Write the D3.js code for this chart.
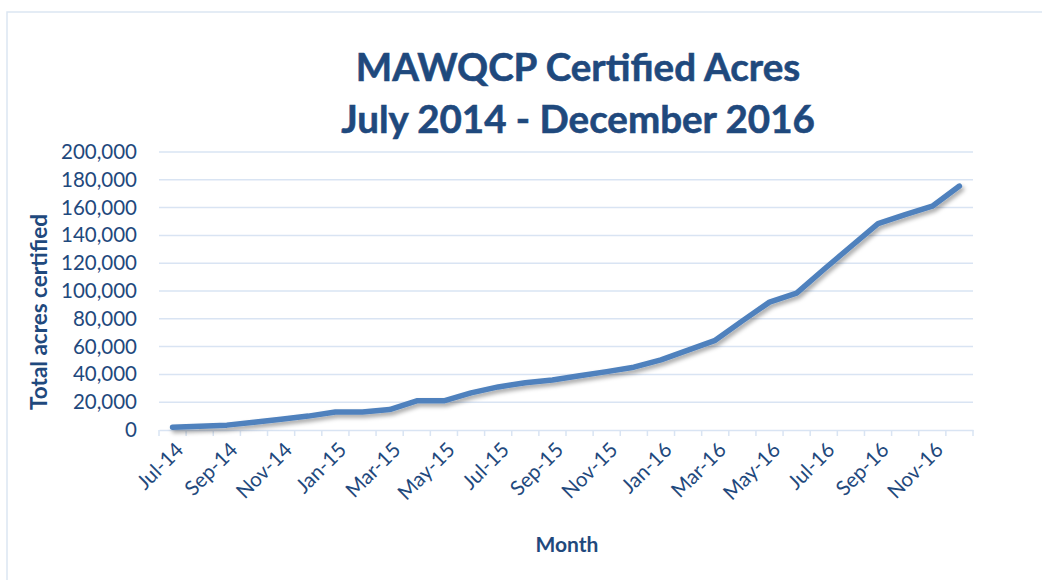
<!DOCTYPE html>
<html>
<head>
<meta charset="utf-8">
<script src="https://cdn.jsdelivr.net/npm/d3@7"></script>
<style>
  body { margin: 0; background: #fff; }
  text { font-family: Lato, "Open Sans", sans-serif; fill: #1f497d; }
</style>
</head>
<body>
<div id="chart-area"></div>
<script>
const months = ['Jul-14','Aug-14','Sep-14','Oct-14','Nov-14','Dec-14',
  'Jan-15','Feb-15','Mar-15','Apr-15','May-15','Jun-15','Jul-15','Aug-15','Sep-15','Oct-15','Nov-15','Dec-15',
  'Jan-16','Feb-16','Mar-16','Apr-16','May-16','Jun-16','Jul-16','Aug-16','Sep-16','Oct-16','Nov-16','Dec-16'];

const acres = [2000, 2700, 3500, 5500, 7800, 10000,
  13000, 13000, 14700, 21000, 21000, 26700, 31000, 34000, 36000, 39000, 42000, 45200,
  50500, 57500, 64500, 78500, 92000, 98500, 115500, 132000, 148500, 155000, 161000, 175500];

const yTicks = [0, 20000, 40000, 60000, 80000, 100000, 120000, 140000, 160000, 180000, 200000];

const titleLines = ['MAWQCP Certified Acres', 'July 2014 - December 2016'];

const MARGIN = { LEFT: 159, RIGHT: 69, TOP: 152, BOTTOM: 150 };
const WIDTH = 1042 - MARGIN.LEFT - MARGIN.RIGHT;
const HEIGHT = 580 - MARGIN.TOP - MARGIN.BOTTOM;

const data = months.map((m, i) => ({ month: m, value: acres[i] }));

const svg = d3.select('#chart-area').append('svg')
  .attr('width', 1042)
  .attr('height', 580);

const defs = svg.append('defs');
const shadow = defs.append('filter').attr('id', 'shadow')
  .attr('x', '-5%').attr('y', '-5%').attr('width', '115%').attr('height', '130%');
shadow.append('feDropShadow')
  .attr('dx', 2).attr('dy', 3).attr('stdDeviation', 2)
  .attr('flood-color', '#000').attr('flood-opacity', 0.35);

// chart border
svg.append('rect')
  .attr('x', 7).attr('y', 12)
  .attr('width', 1060).attr('height', 600)
  .attr('fill', 'none')
  .attr('stroke', '#dce6f2')
  .attr('stroke-width', 1.5);

// title
svg.selectAll('.title').data(titleLines).enter().append('text')
  .attr('class', 'title')
  .attr('x', 578)
  .attr('y', (d, i) => 81 + i * 52)
  .attr('text-anchor', 'middle')
  .style('font-size', '38.5px')
  .style('font-weight', 'bold')
  .style('stroke', '#1f497d')
  .style('stroke-width', 0.6)
  .text(d => d);

const g = svg.append('g')
  .attr('transform', `translate(${MARGIN.LEFT}, ${MARGIN.TOP})`);

const x = d3.scaleBand()
  .domain(months)
  .range([0, WIDTH]);

const y = d3.scaleLinear()
  .domain([0, 200000])
  .range([HEIGHT, 0]);

// gridlines
g.selectAll('.grid').data(yTicks.slice(1)).enter().append('line')
  .attr('x1', 0).attr('x2', WIDTH)
  .attr('y1', d => y(d)).attr('y2', d => y(d))
  .attr('stroke', '#d9e4f3')
  .attr('stroke-width', 1.5);

// y axis labels
const yAxis = d3.axisLeft(y)
  .tickValues(yTicks)
  .tickFormat(d3.format(','))
  .tickSize(0)
  .tickPadding(22);
const yG = g.append('g').call(yAxis);
yG.select('.domain').remove();
yG.selectAll('text')
  .style('font-size', '20.5px')
  .style('font-family', 'Lato, "Open Sans", sans-serif')
  .attr('fill', '#1f497d');

// x axis
const xAxis = d3.axisBottom(x)
  .tickSize(0)
  .tickFormat((d, i) => i % 2 === 0 ? d : '');
const xG = g.append('g')
  .attr('transform', `translate(0, ${HEIGHT})`)
  .call(xAxis);
xG.select('.domain')
  .attr('stroke', '#d9e4f3')
  .attr('stroke-width', 1.5);
xG.selectAll('text')
  .style('font-size', '20.5px')
  .style('font-family', 'Lato, "Open Sans", sans-serif')
  .attr('fill', '#1f497d')
  .attr('text-anchor', 'end')
  .attr('dy', '0.35em')
  .attr('transform', 'translate(5, 14) rotate(-45)');

// category boundary tick marks
g.selectAll('.xtick').data(months.concat(['end'])).enter().append('line')
  .attr('x1', (d, i) => i * x.step())
  .attr('x2', (d, i) => i * x.step())
  .attr('y1', HEIGHT).attr('y2', HEIGHT + 6)
  .attr('stroke', '#d9e4f3')
  .attr('stroke-width', 1.5);

// line
const line = d3.line()
  .x(d => x(d.month) + x.bandwidth() / 2)
  .y(d => y(d.value));

g.append('path')
  .datum(data)
  .attr('d', line)
  .attr('fill', 'none')
  .attr('stroke', '#4f81bd')
  .attr('stroke-width', 5.5)
  .attr('stroke-linecap', 'round')
  .attr('stroke-linejoin', 'round')
  .attr('filter', 'url(#shadow)');

// axis titles
svg.append('text')
  .attr('x', 567)
  .attr('y', 552)
  .attr('text-anchor', 'middle')
  .style('font-size', '21px')
  .style('font-weight', 'bold')
  .text('Month');

svg.append('text')
  .attr('transform', 'translate(47, 312) rotate(-90)')
  .attr('text-anchor', 'middle')
  .style('font-size', '22.5px')
  .style('font-weight', 'bold')
  .text('Total acres certified');
</script>
</body>
</html>
